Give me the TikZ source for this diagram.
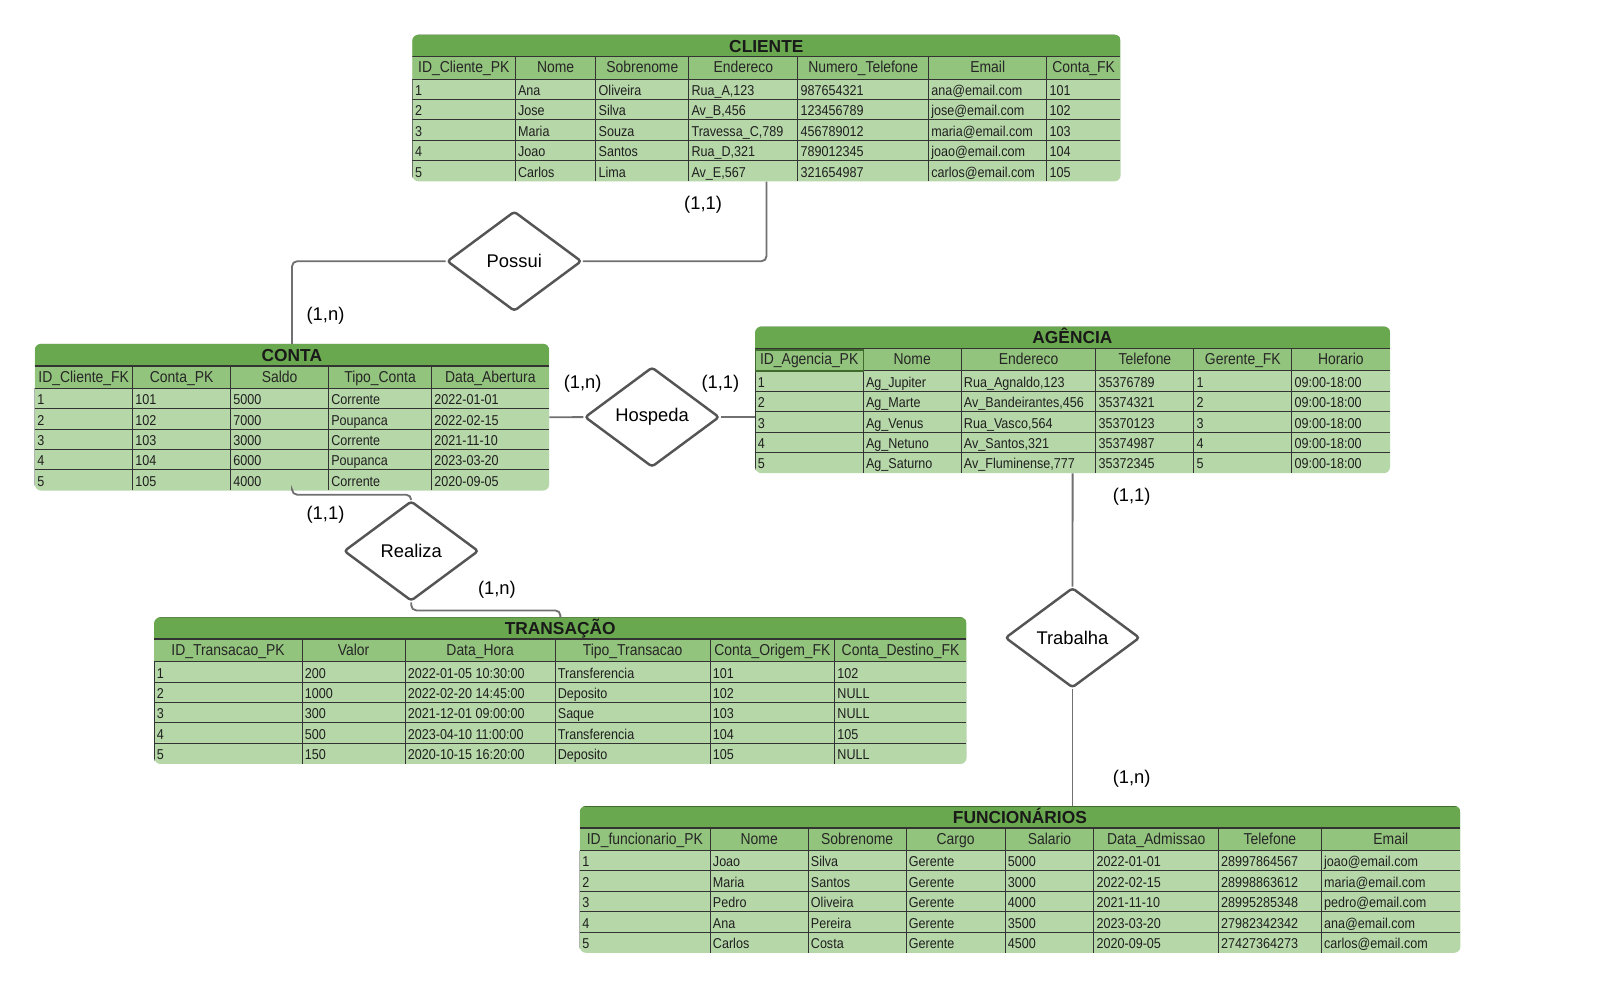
\documentclass[tikz,border=0pt]{standalone}
\usepackage{fontspec}
\setmainfont{Liberation Sans}
\newfontfamily\cellfont[FakeStretch=0.88]{Liberation Sans}
\usetikzlibrary{shapes.geometric}

\definecolor{titlegreen}{HTML}{6AA84F}
\definecolor{headgreen}{HTML}{93C47D}
\definecolor{rowgreen}{HTML}{B6D7A8}
\definecolor{edgegreen}{HTML}{3F6B2C}
\definecolor{gridgray}{HTML}{333333}
\definecolor{linkgray}{HTML}{707070}
\definecolor{relgray}{HTML}{555555}

\tikzset{
  tablebody/.style={draw=none, fill=rowgreen, rounded corners=6pt, inner sep=0pt, anchor=north west},
  titletext/.style={font=\fontsize{17}{20}\selectfont\bfseries, text=black!90, inner sep=0pt},
  headtext/.style={font=\cellfont\fontsize{15.5}{18}\selectfont, text=black!85, inner sep=0pt},
  celltext/.style={font=\cellfont\fontsize{14}{16}\selectfont, text=black!88, inner sep=0pt},
  gridline/.style={draw=gridgray, line width=1pt},
  titleline/.style={draw=gridgray, line width=1.6pt},
  selcell/.style={draw=edgegreen, line width=1.3pt},
  relation/.style={diamond, draw=relgray, line width=2.4pt, fill=white, rounded corners=3pt,
    minimum width=132pt, minimum height=98pt, inner sep=0pt, font=\fontsize{18}{21}\selectfont},
  conn/.style={draw=linkgray, line width=1.8pt, rounded corners=5pt},
  card/.style={font=\fontsize{18}{21}\selectfont, inner sep=0pt},
}

% #1 name, #2 left, #3 top, #4 right, #5 title, #6 column edges, #7 headers, #8 rows
\newcommand\ertable[8]{%
  \def\colx{#6}%
  \node[tablebody, minimum width={#4-#2}, minimum height=143.5pt] (#1) at (#2,#3) {};
  \begin{scope}
    \clip[rounded corners=6pt] (#1.north west) rectangle (#1.south east);
    \fill[titlegreen] (#2,#3) rectangle (#4,#3+21.5);
    \fill[headgreen] (#2,#3+21.5) rectangle (#4,#3+43.5);
    \foreach \k in {0,...,4}
      \draw[gridline] (#2,#3+43.5+20*\k) -- (#4,#3+43.5+20*\k);
    \foreach \xx [count=\c] in {#6} {\xdef\ncol{\c}}%
    \foreach \xx [count=\c] in {#6} {%
      \ifnum\c>1\relax\ifnum\c<\ncol\relax
        \draw[gridline] (\xx,#3+21.5) -- (\xx,#3+143.5);
      \fi\fi}%
    \draw[gridline] (#2,#3+43.5) -- (#2,#3+143.5);
    \draw[titleline] (#2,#3+21.5) -- (#4,#3+21.5);
    \draw[edgegreen, line width=1.2pt] (#2,#3) -- (#4,#3);
  \end{scope}
  \node[titletext, anchor=base] (#1-title) at ({(#2+#4)/2},#3+17) {#5};
  \foreach \h [count=\c from 0] in {#7} {%
    \pgfmathsetmacro\xa{{\colx}[\c]}%
    \pgfmathsetmacro\xb{{\colx}[\c+1]}%
    \node[headtext, anchor=base] (#1-h\c) at ({(\xa+\xb)/2},#3+37.5) {\h};}%
  \foreach \row [count=\r from 0] in {#8} {%
    \foreach \cell [count=\c from 0] in \row {%
      \pgfmathsetmacro\xa{{\colx}[\c]}%
      \node[celltext, anchor=base west] (#1-\r-\c) at (\xa+2.5,#3+59.5+20*\r) {\cell};}}%
}

\begin{document}
\begin{tikzpicture}[x=1pt,y=-1pt]
\fill[white] (0,0) rectangle (1568,967);
\useasboundingbox (0,0) rectangle (1568,967);

% entity tables
\ertable{cliente}{404}{34}{1098}{CLIENTE}{404,505,584,675,782,910,1026,1098}
  {ID\_Cliente\_PK,Nome,Sobrenome,Endereco,Numero\_Telefone,Email,Conta\_FK}
  {{1,Ana,Oliveira,{Rua\_A,123},987654321,ana@email.com,101},%
   {2,Jose,Silva,{Av\_B,456},123456789,jose@email.com,102},%
   {3,Maria,Souza,{Travessa\_C,789},456789012,maria@email.com,103},%
   {4,Joao,Santos,{Rua\_D,321},789012345,joao@email.com,104},%
   {5,Carlos,Lima,{Av\_E,567},321654987,carlos@email.com,105}}

\ertable{conta}{34}{337}{538}{CONTA}{34,130,226,322,423,538}
  {ID\_Cliente\_FK,Conta\_PK,Saldo,Tipo\_Conta,Data\_Abertura}
  {{1,101,5000,Corrente,2022-01-01},%
   {2,102,7000,Poupanca,2022-02-15},%
   {3,103,3000,Corrente,2021-11-10},%
   {4,104,6000,Poupanca,2023-03-20},%
   {5,105,4000,Corrente,2020-09-05}}

\ertable{agencia}{740}{320}{1362}{AGÊNCIA}{740,846,942,1074,1170,1266,1362}
  {ID\_Agencia\_PK,Nome,Endereco,Telefone,Gerente\_FK,Horario}
  {{1,Ag\_Jupiter,{Rua\_Agnaldo,123},35376789,1,09:00-18:00},%
   {2,Ag\_Marte,{Av\_Bandeirantes,456},35374321,2,09:00-18:00},%
   {3,Ag\_Venus,{Rua\_Vasco,564},35370123,3,09:00-18:00},%
   {4,Ag\_Netuno,{Av\_Santos,321},35374987,4,09:00-18:00},%
   {5,Ag\_Saturno,{Av\_Fluminense,777},35372345,5,09:00-18:00}}
% highlighted header cell
\draw[selcell] (agencia-h0 -| agencia.west) ++(0.7,-10.5) rectangle (846,363.5);

\ertable{transacao}{151}{605}{947}{TRANSAÇÃO}{151,296,397,544,696,818,947}
  {ID\_Transacao\_PK,Valor,Data\_Hora,Tipo\_Transacao,Conta\_Origem\_FK,Conta\_Destino\_FK}
  {{1,200,2022-01-05 10:30:00,Transferencia,101,102},%
   {2,1000,2022-02-20 14:45:00,Deposito,102,NULL},%
   {3,300,2021-12-01 09:00:00,Saque,103,NULL},%
   {4,500,2023-04-10 11:00:00,Transferencia,104,105},%
   {5,150,2020-10-15 16:20:00,Deposito,105,NULL}}

\ertable{funcionarios}{568}{790}{1431}{FUNCIONÁRIOS}{568,696,792,888,985,1072,1194,1295,1431}
  {ID\_funcionario\_PK,Nome,Sobrenome,Cargo,Salario,Data\_Admissao,Telefone,Email}
  {{1,Joao,Silva,Gerente,5000,2022-01-01,28997864567,joao@email.com},%
   {2,Maria,Santos,Gerente,3000,2022-02-15,28998863612,maria@email.com},%
   {3,Pedro,Oliveira,Gerente,4000,2021-11-10,28995285348,pedro@email.com},%
   {4,Ana,Pereira,Gerente,3500,2023-03-20,27982342342,ana@email.com},%
   {5,Carlos,Costa,Gerente,4500,2020-09-05,27427364273,carlos@email.com}}

% relationships
\node[relation] (possui) at (504,256) {Possui};
\node[relation] (hospeda) at (639,408.75) {Hospeda};
\node[relation] (realiza) at (403,540) {Realiza};
\node[relation] (trabalha) at (1051,625) {Trabalha};

% connectors
\draw[conn] (cliente.south) |- (possui.east);
\draw[conn] (possui.west) -| (conta.north);
\draw[conn] (conta.east) -- (hospeda.west);
\draw[conn] (hospeda.east) -- (hospeda.east -| agencia.west);
\draw[conn] (conta.south) |- ([yshift=5pt]realiza.north) -- (realiza.north);
\draw[conn] (realiza.south) -- ([yshift=-8pt]realiza.south) -| (transacao.north);
\draw[conn] (agencia.south) -- (trabalha.north);
\draw[conn] (trabalha.south) -- (trabalha.south |- funcionarios.north);

% cardinalities
\node[card] (card-cliente) at (689,201) {(1,1)};
\node[card] (card-conta-possui) at (319,309) {(1,n)};
\node[card] (card-conta-hospeda) at (571,376) {(1,n)};
\node[card] (card-agencia-hospeda) at (706,376) {(1,1)};
\node[card] (card-conta-realiza) at (319,504) {(1,1)};
\node[card] (card-transacao) at (487,578) {(1,n)};
\node[card] (card-agencia-trabalha) at (1109,487) {(1,1)};
\node[card] (card-funcionarios) at (1109,763) {(1,n)};
\end{tikzpicture}
\end{document}
